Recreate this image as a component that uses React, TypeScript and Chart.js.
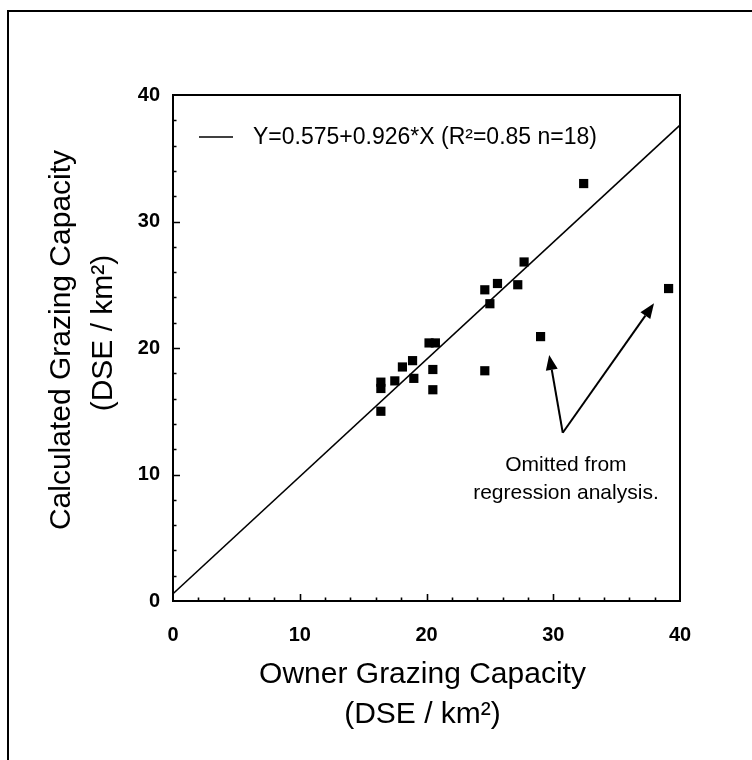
import React, { useEffect, useRef } from "react";
import { Chart, registerables } from "chart.js";

Chart.register(...registerables);

// ---- data ----
const ownerCapacity = [16.4, 16.4, 16.4, 17.5, 18.1, 18.9, 19.0, 20.2, 20.7, 20.5, 20.5, 24.6, 25.0, 25.6, 27.2, 27.7, 32.4, 24.6];
const calculatedCapacity = [17.3, 16.8, 15.0, 17.4, 18.5, 19.0, 17.6, 20.4, 20.4, 18.3, 16.7, 24.6, 23.5, 25.1, 25.0, 26.8, 33.0, 18.2];
const omittedOwner = [29.0, 39.1];
const omittedCalculated = [20.9, 24.7];
const regressionIntercept = 0.575;
const regressionSlope = 0.926;
const regressionRange = [0, 40];
const axisMin = 0;
const axisMax = 40;
const majorStep = 10;
const minorStep = 2;
const arrowBase = { x: 30.75, y: 13.3 };
const arrowTips = [
  { x: 29.68, y: 19.45 },
  { x: 37.95, y: 23.53 },
];
const annotationAnchor = { x: 31.0, y: 10.7 };
const annotationLines = ["Omitted from", "regression analysis."];
const legendLabel = "Y=0.575+0.926*X (R²=0.85 n=18)";
const xTitleLines = ["Owner Grazing Capacity", "(DSE / km²)"];
const yTitleLines = ["Calculated Grazing Capacity", "(DSE / km²)"];

const FONT = "'Liberation Sans', Arial, Helvetica, sans-serif";

const decorPlugin = {
  id: "decor",
  beforeDraw(chart: any) {
    const { ctx, width, height } = chart;
    ctx.save();
    ctx.fillStyle = "#ffffff";
    ctx.fillRect(0, 0, width, height);
    ctx.restore();
  },
  afterDraw(chart: any) {
    const { ctx, chartArea: a, scales } = chart;
    const xs = scales.x;
    const ys = scales.y;
    ctx.save();
    ctx.strokeStyle = "#000";
    ctx.fillStyle = "#000";

    // outer frame (top and left edges)
    ctx.lineWidth = 2;
    ctx.beginPath();
    ctx.moveTo(8, chart.height);
    ctx.lineTo(8, 11);
    ctx.lineTo(chart.width, 11);
    ctx.stroke();

    // plot box
    ctx.lineWidth = 2;
    ctx.strokeRect(a.left, a.top, a.right - a.left, a.bottom - a.top);

    // inward ticks
    ctx.lineWidth = 1.6;
    ctx.beginPath();
    for (let v = axisMin + minorStep; v < axisMax; v += minorStep) {
      const len = v % majorStep === 0 ? 7 : 3.5;
      const py = Math.round(ys.getPixelForValue(v)) + 0.5;
      ctx.moveTo(a.left, py);
      ctx.lineTo(a.left + len, py);
      const px = Math.round(xs.getPixelForValue(v)) + 0.5;
      ctx.moveTo(px, a.bottom);
      ctx.lineTo(px, a.bottom - len);
    }
    ctx.stroke();

    // legend
    ctx.lineWidth = 1.5;
    const ly = a.top + 42;
    ctx.beginPath();
    ctx.moveTo(a.left + 26, ly);
    ctx.lineTo(a.left + 60, ly);
    ctx.stroke();
    ctx.font = `23px ${FONT}`;
    ctx.textAlign = "left";
    ctx.textBaseline = "middle";
    ctx.fillText(legendLabel, a.left + 80, ly + 1);

    // arrows
    const bx = xs.getPixelForValue(arrowBase.x);
    const by = ys.getPixelForValue(arrowBase.y);
    ctx.lineWidth = 2;
    for (const t of arrowTips) {
      const tx = xs.getPixelForValue(t.x);
      const ty = ys.getPixelForValue(t.y);
      const ang = Math.atan2(ty - by, tx - bx);
      const headLen = 15;
      const headW = 6;
      const hx = tx - headLen * Math.cos(ang);
      const hy = ty - headLen * Math.sin(ang);
      ctx.beginPath();
      ctx.moveTo(bx, by);
      ctx.lineTo(hx, hy);
      ctx.stroke();
      ctx.beginPath();
      ctx.moveTo(tx, ty);
      ctx.lineTo(hx + headW * Math.sin(ang), hy - headW * Math.cos(ang));
      ctx.lineTo(hx - headW * Math.sin(ang), hy + headW * Math.cos(ang));
      ctx.closePath();
      ctx.fill();
    }

    // annotation text
    ctx.font = `21px ${FONT}`;
    ctx.textAlign = "center";
    ctx.textBaseline = "middle";
    const ax = xs.getPixelForValue(annotationAnchor.x);
    const ay = ys.getPixelForValue(annotationAnchor.y);
    annotationLines.forEach((line, i) => ctx.fillText(line, ax, ay + i * 28));

    // axis titles
    ctx.font = `30px ${FONT}`;
    const cx = (a.left + a.right) / 2 - 4;
    ctx.fillText(xTitleLines[0], cx, a.bottom + 74);
    ctx.fillText(xTitleLines[1], cx, a.bottom + 114);

    ctx.save();
    ctx.translate(62, (a.top + a.bottom) / 2 - 8);
    ctx.rotate(-Math.PI / 2);
    ctx.fillText(yTitleLines[0], 0, 0);
    ctx.restore();
    ctx.save();
    ctx.translate(104, (a.top + a.bottom) / 2 - 15);
    ctx.rotate(-Math.PI / 2);
    ctx.fillText(yTitleLines[1], 0, 0);
    ctx.restore();

    ctx.restore();
  },
};

export default function App() {
  const ref = useRef<HTMLCanvasElement | null>(null);

  useEffect(() => {
    document.body.style.margin = "0";
    const canvas = ref.current;
    if (!canvas) return;

    const mainPoints = ownerCapacity.map((x, i) => ({ x, y: calculatedCapacity[i] }));
    const omittedPoints = omittedOwner.map((x, i) => ({ x, y: omittedCalculated[i] }));
    const linePoints = regressionRange.map((x) => ({ x, y: regressionIntercept + regressionSlope * x }));

    const tickFont = { family: FONT, size: 20, weight: "bold" as const };

    const chart = new Chart(canvas, {
      type: "scatter",
      data: {
        datasets: [
          {
            label: "Regression",
            data: linePoints,
            showLine: true,
            borderColor: "#000",
            borderWidth: 1.6,
            pointRadius: 0,
            fill: false,
          },
          {
            label: "Included",
            data: mainPoints,
            pointStyle: "rect",
            pointRadius: 6.5,
            backgroundColor: "#000",
            borderColor: "#000",
            borderWidth: 0,
          },
          {
            label: "Omitted",
            data: omittedPoints,
            pointStyle: "rect",
            pointRadius: 6.5,
            backgroundColor: "#000",
            borderColor: "#000",
            borderWidth: 0,
          },
        ],
      },
      options: {
        responsive: false,
        animation: false,
        devicePixelRatio: 1,
        layout: { padding: { top: 95, right: 72, left: 0, bottom: 0 } },
        plugins: {
          legend: { display: false },
          tooltip: { enabled: false },
          title: { display: false },
        },
        scales: {
          x: {
            type: "linear",
            min: axisMin,
            max: axisMax,
            grid: { display: false },
            border: { display: false },
            ticks: { stepSize: majorStep, color: "#000", font: tickFont, padding: 14, maxRotation: 0 },
            afterFit: (s: any) => {
              s.height = 159;
            },
          },
          y: {
            type: "linear",
            min: axisMin,
            max: axisMax,
            grid: { display: false },
            border: { display: false },
            ticks: { stepSize: majorStep, color: "#000", font: tickFont, padding: 5 },
            afterFit: (s: any) => {
              s.width = 173;
            },
          },
        },
      },
      plugins: [decorPlugin],
    });

    return () => chart.destroy();
  }, []);

  return <canvas ref={ref} width={752} height={760} style={{ display: "block" }} />;
}
